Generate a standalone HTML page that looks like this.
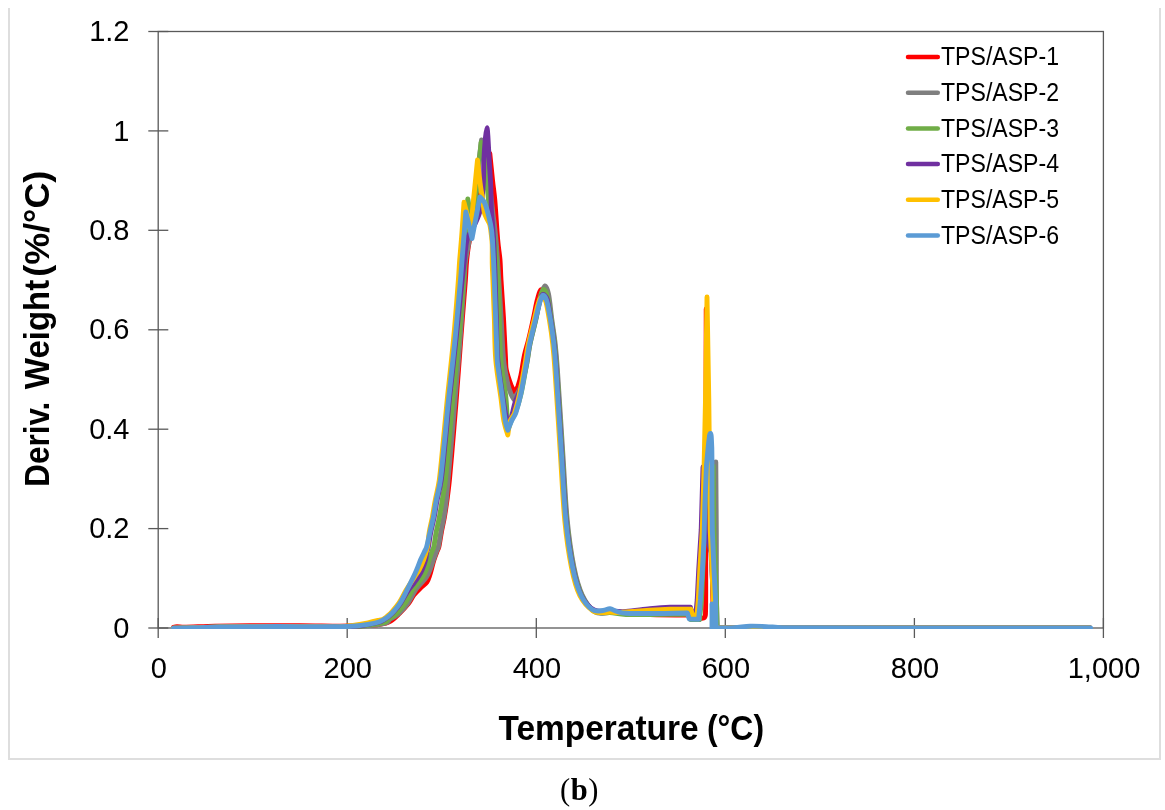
<!DOCTYPE html>
<html lang="en"><head><meta charset="utf-8"><title>Deriv. Weight vs Temperature</title>
<style>
html,body{margin:0;padding:0;background:#fff}
body{width:1165px;height:810px;overflow:hidden;position:relative}
svg{position:absolute;left:0;top:0;display:block}
text{font-family:"Liberation Sans",sans-serif;fill:#000}
.cap{font-family:"Liberation Serif",serif}
</style></head><body>
<svg width="1165" height="810" viewBox="0 0 1165 810">
<rect width="1165" height="810" fill="#fff"/>
<path d="M9 8V759H1160V8" fill="none" stroke="#dedede" stroke-width="2"/>
<defs><clipPath id="pa"><rect x="158.2" y="30.5" width="945.2" height="598.5"/></clipPath></defs>
<g stroke="#595959" stroke-width="1.3" fill="none">
<rect x="158.2" y="31.5" width="945.2" height="596.5"/>
<line x1="148.3" x2="168.3" y1="628.0" y2="628.0"/><line x1="148.3" x2="168.3" y1="528.6" y2="528.6"/><line x1="148.3" x2="168.3" y1="429.2" y2="429.2"/><line x1="148.3" x2="168.3" y1="329.8" y2="329.8"/><line x1="148.3" x2="168.3" y1="230.3" y2="230.3"/><line x1="148.3" x2="168.3" y1="130.9" y2="130.9"/><line x1="148.3" x2="168.3" y1="31.5" y2="31.5"/><line x1="158.2" x2="158.2" y1="618" y2="638"/><line x1="347.2" x2="347.2" y1="618" y2="638"/><line x1="536.3" x2="536.3" y1="618" y2="638"/><line x1="725.3" x2="725.3" y1="618" y2="638"/><line x1="914.4" x2="914.4" y1="618" y2="638"/><line x1="1103.4" x2="1103.4" y1="618" y2="638"/>
</g>
<g clip-path="url(#pa)" fill="none" stroke-width="4.9" stroke-linecap="round" stroke-linejoin="round">
<path d="M173.5 627.3 C173.5 627.3 175.6 626.7 177.0 626.7 C178.8 626.7 181.2 627.3 184.0 627.3 C190.3 627.2 204.0 626.5 215.0 626.2 C226.0 625.9 236.0 625.7 250.0 625.6 C264.2 625.5 285.0 625.6 300.0 625.7 C315.0 625.8 329.8 626.3 340.0 626.3 C348.4 626.3 354.3 626.1 361.0 625.8 C367.7 625.5 375.2 625.1 380.0 624.4 C384.1 623.8 386.7 623.4 390.0 621.5 C393.3 619.6 396.5 616.2 399.6 613.2 C402.6 610.2 406.1 606.5 408.5 603.5 C410.9 600.5 411.9 597.6 413.8 595.0 C415.8 592.4 418.3 590.2 420.5 588.0 C422.7 585.8 425.4 584.2 426.9 582.0 C428.5 579.8 429.0 577.2 429.8 575.0 C430.6 572.8 430.8 571.4 431.5 569.0 C432.2 566.5 433.0 562.8 433.9 560.0 C434.8 557.2 435.9 554.2 436.8 552.0 C437.6 549.9 438.4 548.9 438.9 546.7 C439.6 543.4 440.5 537.0 441.4 532.0 C442.3 527.0 443.5 522.3 444.4 517.0 C445.3 511.7 446.2 506.2 447.0 500.0 C447.8 493.8 448.6 488.0 449.4 480.0 C450.4 470.0 451.8 453.3 452.9 440.0 C454.0 426.7 455.0 416.0 456.2 400.0 C457.5 383.3 459.2 360.0 460.7 340.0 C462.2 320.0 464.4 293.3 465.4 280.0 C466.0 272.0 466.0 266.7 466.7 260.0 C467.4 253.3 467.9 247.9 469.5 240.0 C471.4 230.8 475.6 215.3 478.0 205.0 C480.4 194.7 482.3 185.3 483.8 178.0 C485.2 171.2 485.8 165.1 486.8 161.0 C487.6 157.9 489.8 153.5 489.8 153.5 C489.8 153.5 491.7 172.2 492.5 180.0 C493.3 187.8 494.1 192.0 494.8 200.0 C495.7 210.0 496.8 230.0 497.7 240.0 C498.4 248.0 499.4 253.3 500.0 260.0 C500.5 266.7 500.5 272.0 501.0 280.0 C501.6 290.0 502.8 306.7 503.6 320.0 C504.3 333.3 505.1 351.7 505.6 360.0 C505.8 364.0 505.5 366.1 506.3 370.0 C507.2 374.2 509.6 381.2 511.0 385.0 C512.2 388.1 514.8 392.5 514.8 392.5 C514.8 392.5 517.0 388.7 518.0 386.0 C519.0 383.1 520.1 379.5 521.0 375.0 C522.1 369.8 523.2 360.8 524.5 355.0 C525.8 349.2 527.0 345.9 528.5 340.0 C530.0 334.1 531.7 326.2 533.2 319.5 C534.7 312.8 536.0 304.9 537.3 300.0 C538.4 295.8 539.5 290.5 541.0 289.8 C542.5 289.1 545.0 293.0 546.0 296.0 C547.6 300.9 549.3 311.4 550.7 319.4 C552.0 327.4 553.2 335.6 554.1 344.0 C555.0 352.4 555.6 359.6 556.3 370.0 C557.6 388.5 560.2 430.0 561.8 455.0 C563.4 480.0 564.3 501.3 566.1 520.0 C567.9 538.7 570.3 554.5 572.8 567.0 C575.1 578.5 577.6 587.8 581.1 595.0 C584.6 602.2 589.2 607.8 594.0 610.5 C598.8 613.2 604.7 611.1 610.0 611.5 C615.3 611.9 619.6 612.5 626.0 613.0 C632.7 613.5 640.4 614.2 650.0 614.5 C660.5 614.8 689.0 615.0 689.0 615.0 L690.5 618.0 C690.5 618.0 701.3 618.6 703.8 617.8 C705.7 617.2 705.4 615.0 705.5 613.0 C705.8 605.0 705.7 570.0 705.7 570.0 L705.9 450.0 L706.2 309.0 L708.5 440.0 L711.5 480.0 L712.0 560.0 L713.5 628.0 L1090.0 628.0" stroke="#FF0000"/>
<path d="M173.5 628.2 C173.5 628.2 187.2 628.0 195.0 627.8 C202.8 627.6 210.8 627.2 220.0 627.0 C229.2 626.8 238.0 626.7 250.0 626.6 C263.3 626.5 285.0 626.6 300.0 626.6 C315.0 626.6 329.8 626.9 340.0 626.8 C348.4 626.7 354.7 626.6 361.0 626.2 C367.3 625.8 373.7 625.2 378.0 624.6 C381.7 624.1 385.0 623.5 387.0 622.6 C388.6 621.9 388.6 620.4 389.8 619.4 C391.1 618.4 393.0 617.6 394.6 616.6 C396.1 615.6 397.5 614.8 399.1 613.2 C401.2 611.0 405.0 607.3 407.6 603.5 C410.3 599.7 412.8 594.0 415.1 590.6 C417.3 587.3 419.5 585.3 421.4 583.0 C423.3 580.7 425.0 579.1 426.5 576.8 C428.0 574.5 429.2 571.8 430.3 569.0 C431.5 566.2 432.4 562.8 433.4 560.0 C434.4 557.2 435.4 554.2 436.3 552.0 C437.1 549.9 437.9 548.9 438.4 546.7 C439.1 543.4 440.0 537.0 440.9 532.0 C441.8 527.0 443.0 522.3 443.9 517.0 C444.8 511.7 445.6 506.2 446.3 500.0 C447.0 493.8 447.3 488.0 448.0 480.0 C448.9 470.0 450.4 453.3 451.6 440.0 C452.8 426.7 453.7 416.0 455.0 400.0 C456.4 383.3 458.5 360.0 460.0 340.0 C461.5 320.0 463.3 293.3 464.2 280.0 C464.8 272.0 464.5 267.9 465.6 260.0 C466.8 251.7 469.3 242.1 471.0 230.0 C472.7 217.5 474.2 200.0 476.0 185.0 C477.8 170.0 481.5 140.0 481.5 140.0 C481.5 140.0 484.2 152.5 485.5 160.0 C486.8 167.5 488.2 176.0 489.5 185.0 C490.8 194.0 491.9 204.8 493.0 214.0 C494.1 223.2 495.1 229.6 496.0 240.0 C497.0 251.0 497.9 266.7 498.8 280.0 C499.7 293.3 500.4 306.7 501.2 320.0 C502.1 333.3 502.5 349.2 503.6 360.0 C504.6 370.1 506.8 379.3 508.0 385.0 C508.8 388.7 510.0 391.6 511.0 394.0 C512.0 396.3 514.0 399.5 514.0 399.5 C514.0 399.5 515.8 396.2 517.0 394.0 C518.2 391.6 520.3 388.8 521.5 385.0 C523.1 380.0 525.3 370.8 526.7 364.0 C528.1 357.2 528.5 351.4 530.0 344.0 C531.5 336.6 534.0 327.5 535.8 319.5 C537.6 311.5 539.5 301.6 541.0 296.0 C542.1 291.9 543.5 286.3 544.8 286.0 C546.0 285.7 547.8 290.5 548.5 294.0 C549.7 299.6 550.7 311.1 551.8 319.4 C552.9 327.7 554.3 335.6 555.2 344.0 C556.1 352.4 556.7 359.6 557.4 370.0 C558.7 388.5 561.3 430.0 562.9 455.0 C564.5 480.0 565.4 501.3 567.2 520.0 C569.0 538.7 571.4 554.5 573.9 567.0 C576.2 578.5 578.7 587.5 582.2 595.0 C585.7 602.5 590.4 609.1 595.0 612.0 C599.6 614.9 604.8 612.4 610.0 612.5 C615.2 612.6 619.6 612.6 626.0 612.5 C632.7 612.4 642.7 612.2 650.0 612.0 C657.3 611.8 662.7 611.6 670.0 611.5 C677.3 611.4 694.0 611.5 694.0 611.5 L696.0 618.0 L699.5 619.5 M713.3 632.0 L714.0 600.0 L715.8 462.0 L716.3 530.0 L716.4 600.0 L717.3 628.0 L1090.0 628.0" stroke="#7F7F7F"/>
<path d="M173.5 628.2 C173.5 628.2 187.2 628.0 195.0 627.8 C202.8 627.6 210.8 627.2 220.0 627.0 C229.2 626.8 238.0 626.7 250.0 626.6 C263.3 626.5 285.0 626.6 300.0 626.6 C315.0 626.6 330.0 626.9 340.0 626.8 C348.0 626.7 354.0 626.6 360.0 626.2 C366.0 625.8 371.8 624.9 376.0 624.2 C379.6 623.6 383.0 623.1 385.0 622.3 C386.6 621.7 386.9 620.3 388.2 619.4 C389.4 618.5 391.2 617.6 392.6 616.6 C394.1 615.6 395.3 614.8 396.8 613.2 C398.8 611.0 402.4 607.3 404.9 603.5 C407.5 599.7 409.9 594.0 412.1 590.6 C414.2 587.3 416.2 585.3 418.0 583.0 C419.8 580.7 421.5 579.1 422.9 576.8 C424.3 574.5 425.4 571.8 426.5 569.0 C427.5 566.2 428.3 562.8 429.2 560.0 C430.1 557.2 431.0 554.2 431.8 552.0 C432.5 549.9 433.3 548.9 433.8 546.7 C434.5 543.4 435.3 537.0 436.2 532.0 C437.2 527.0 438.4 522.3 439.4 517.0 C440.4 511.7 441.3 506.2 442.3 500.0 C443.3 493.8 444.5 488.0 445.4 480.0 C446.5 470.0 447.9 453.3 449.1 440.0 C450.3 426.7 451.2 416.0 452.7 400.0 C454.3 383.3 456.9 360.0 458.7 340.0 C460.5 320.0 462.5 293.3 463.5 280.0 C464.1 272.0 464.2 268.0 464.8 260.0 C465.3 252.0 466.4 240.0 466.8 232.0 C467.2 224.0 466.8 217.5 467.0 212.0 C467.2 206.8 467.8 199.0 467.8 199.0 C467.8 199.0 469.6 209.8 470.5 214.0 C471.3 218.0 472.1 228.0 473.0 224.0 C474.1 219.2 475.6 198.6 477.0 185.0 C478.4 171.4 481.1 142.5 481.1 142.5 C481.1 142.5 483.6 154.1 484.5 160.0 C485.4 165.9 485.7 170.8 486.4 178.0 C487.3 186.7 488.5 201.7 489.8 212.0 C491.1 222.3 493.0 228.7 494.3 240.0 C495.7 251.3 497.1 266.7 497.9 280.0 C498.7 293.3 498.9 306.7 499.4 320.0 C499.8 333.3 499.7 347.2 500.8 360.0 C501.9 372.8 504.7 387.2 505.8 397.0 C506.8 405.8 506.8 413.9 507.3 419.0 C507.6 422.4 508.8 427.5 508.8 427.5 C508.8 427.5 510.8 421.8 512.0 419.0 C513.2 416.2 514.8 414.4 516.0 411.0 C517.5 406.8 519.4 400.9 521.0 394.0 C522.8 386.2 525.1 372.3 526.6 364.0 C528.0 356.0 528.4 351.4 529.9 344.0 C531.4 336.6 534.1 327.2 535.8 319.5 C537.5 311.8 538.7 303.0 540.0 298.0 C540.9 294.4 542.2 289.7 543.5 289.5 C544.8 289.3 546.7 293.7 547.5 297.0 C548.8 302.0 550.0 311.6 551.2 319.4 C552.4 327.2 553.7 335.6 554.6 344.0 C555.5 352.4 556.1 359.6 556.8 370.0 C558.1 388.5 560.7 430.0 562.3 455.0 C563.9 480.0 564.8 501.3 566.6 520.0 C568.4 538.7 570.8 554.5 573.3 567.0 C575.6 578.5 578.1 587.6 581.6 595.0 C585.1 602.4 589.8 608.6 594.5 611.5 C599.2 614.4 604.8 612.0 610.0 612.5 C615.2 613.0 619.6 614.2 626.0 614.5 C632.7 614.8 640.4 614.6 650.0 614.5 C660.4 614.4 688.5 614.0 688.5 614.0 L690.5 619.5 L699.5 619.5 L701.5 600.0 L704.5 530.0 L708.0 480.0 L713.2 466.0 L713.6 504.0 L713.9 530.0 L715.4 570.0 L716.5 600.0 L717.0 628.0 L1090.0 628.0" stroke="#70AD47"/>
<path d="M173.5 628.2 C173.5 628.2 187.2 628.0 195.0 627.8 C202.8 627.6 210.8 627.2 220.0 627.0 C229.2 626.8 238.0 626.7 250.0 626.6 C263.3 626.5 285.0 626.6 300.0 626.6 C315.0 626.6 330.3 626.9 340.0 626.8 C347.2 626.7 352.7 626.5 358.0 626.0 C363.3 625.5 368.2 624.4 372.0 623.6 C375.6 622.9 378.9 622.1 381.0 621.4 C382.5 620.9 383.2 620.2 384.5 619.4 C385.8 618.6 387.4 617.6 388.7 616.6 C390.0 615.6 391.1 614.7 392.5 613.2 C394.4 611.0 397.7 607.3 400.3 603.5 C402.9 599.7 405.8 594.0 408.1 590.6 C410.3 587.4 412.3 585.3 414.0 583.0 C415.7 580.7 416.9 579.1 418.3 576.8 C419.7 574.5 421.3 571.8 422.4 569.0 C423.6 566.2 424.8 562.8 425.5 560.0 C426.2 557.2 426.3 554.2 426.8 552.0 C427.3 549.8 428.0 548.9 428.4 546.7 C429.1 543.4 429.8 537.0 430.8 532.0 C431.8 527.0 433.1 522.3 434.2 517.0 C435.2 511.7 435.9 506.2 437.1 500.0 C438.3 493.8 440.1 488.1 441.2 480.0 C442.6 470.0 444.1 453.3 445.4 440.0 C446.8 426.7 447.6 416.0 449.3 400.0 C451.1 383.3 453.8 360.0 455.9 340.0 C458.1 320.0 460.8 293.3 462.2 280.0 C463.1 272.0 463.7 266.8 464.5 260.0 C465.3 253.2 465.6 244.7 467.2 239.0 C468.8 233.3 471.9 230.4 474.0 226.0 C476.1 221.6 478.3 217.0 479.6 212.5 C480.9 208.0 481.4 204.2 482.0 199.0 C482.6 193.8 483.1 187.5 483.4 181.0 C483.7 174.5 483.6 167.2 483.9 160.0 C484.2 152.8 484.9 143.4 485.4 138.0 C485.8 133.9 486.6 127.8 487.0 127.8 C487.4 127.8 487.7 133.9 488.0 138.0 C488.4 144.2 489.0 156.8 489.5 165.0 C490.0 173.2 490.5 179.5 490.8 187.0 C491.1 194.5 491.1 203.7 491.4 210.0 C491.7 216.0 492.2 219.2 492.6 225.0 C493.0 230.8 493.6 237.0 494.0 245.0 C494.4 254.2 494.8 267.5 495.2 280.0 C495.6 292.5 495.9 306.7 496.4 320.0 C496.8 333.3 496.7 347.2 497.8 360.0 C498.9 372.8 501.5 387.8 502.8 397.0 C503.9 404.2 504.8 410.5 505.8 415.0 C506.7 418.7 509.0 424.0 509.0 424.0 C509.0 424.0 510.7 419.9 511.5 417.0 C512.5 413.3 513.8 406.5 515.2 402.0 C516.6 397.5 518.6 395.0 520.0 390.0 C521.8 383.7 524.5 371.7 526.0 364.0 C527.5 356.3 527.8 351.4 529.3 344.0 C530.8 336.6 533.5 326.7 535.2 319.5 C536.9 312.3 538.4 305.2 539.7 301.0 C540.6 298.2 541.8 294.8 543.0 294.5 C544.2 294.2 546.4 296.7 547.1 299.0 C548.4 303.1 549.5 311.9 550.7 319.4 C551.9 326.9 553.2 335.6 554.1 344.0 C555.0 352.4 555.6 359.6 556.3 370.0 C557.6 388.5 560.2 430.0 561.8 455.0 C563.4 480.0 564.3 501.3 566.1 520.0 C567.9 538.7 570.3 554.5 572.8 567.0 C575.1 578.5 577.6 587.8 581.1 595.0 C584.6 602.1 589.2 607.3 594.0 610.0 C598.8 612.7 604.7 610.8 610.0 611.0 C615.3 611.2 619.6 611.9 626.0 611.5 C632.7 611.1 642.7 609.4 650.0 608.7 C657.3 608.0 663.2 607.5 670.0 607.3 C676.8 607.1 690.5 607.3 690.5 607.3 L692.0 614.0 L695.8 614.5 L697.2 600.0 L698.7 570.0 L701.2 530.0 L703.0 467.0 L707.0 536.0 L711.0 553.0 L713.5 600.0 L714.5 628.0 L1090.0 628.0" stroke="#7030A0"/>
<path d="M173.5 628.2 C173.5 628.2 187.2 628.0 195.0 627.8 C202.8 627.6 210.8 627.2 220.0 627.0 C229.2 626.8 238.0 626.7 250.0 626.6 C263.3 626.5 285.0 626.6 300.0 626.6 C315.0 626.6 331.2 627.0 340.0 626.8 C345.2 626.7 348.3 626.0 353.0 625.3 C357.7 624.6 363.8 623.6 368.0 622.8 C372.0 622.0 375.6 621.1 378.0 620.5 C379.8 620.1 381.1 620.0 382.6 619.4 C384.1 618.8 385.5 617.6 386.8 616.6 C388.2 615.6 389.3 614.7 390.7 613.2 C392.6 611.0 396.1 607.3 398.7 603.5 C401.2 599.7 403.9 594.0 405.9 590.6 C407.7 587.5 409.1 585.3 410.6 583.0 C412.0 580.7 413.1 579.1 414.6 576.8 C416.1 574.5 418.1 571.8 419.6 569.0 C421.0 566.2 422.4 562.8 423.5 560.0 C424.6 557.2 425.4 554.2 426.1 552.0 C426.7 549.9 427.2 548.9 427.5 546.7 C428.1 543.4 428.5 537.0 429.3 532.0 C430.1 527.0 431.4 522.3 432.4 517.0 C433.4 511.7 434.1 506.2 435.3 500.0 C436.4 493.8 438.2 488.1 439.3 480.0 C440.7 470.0 442.1 453.3 443.4 440.0 C444.7 426.7 445.6 416.0 447.2 400.0 C448.9 383.3 451.6 360.0 453.5 340.0 C455.4 320.0 457.4 293.3 458.4 280.0 C459.0 272.0 459.1 268.0 459.7 260.0 C460.3 252.0 461.3 241.6 462.0 232.0 C462.7 222.4 464.0 202.3 464.0 202.3 C464.0 202.3 465.9 209.7 467.0 214.0 C468.1 218.3 469.2 230.3 470.3 228.0 C471.4 225.7 472.3 211.2 473.5 200.0 C474.7 188.7 477.5 160.0 477.5 160.0 C477.5 160.0 479.6 179.3 480.5 186.0 C481.2 191.6 482.2 195.6 482.8 200.0 C483.4 204.4 483.6 209.3 484.3 212.5 C484.9 215.2 486.1 217.0 487.0 219.0 C487.9 221.0 489.1 222.1 489.8 224.5 C490.5 227.1 490.9 231.1 491.3 234.4 C491.7 237.7 492.1 240.3 492.2 244.3 C492.4 249.4 492.1 259.1 492.3 265.0 C492.4 270.9 492.7 274.0 492.9 280.0 C493.2 289.2 493.9 306.7 494.4 320.0 C494.8 333.3 494.7 347.2 495.8 360.0 C496.9 372.8 499.4 386.8 500.8 397.0 C502.1 406.6 502.7 414.7 503.9 421.0 C505.0 426.7 507.8 435.0 507.8 435.0 C507.8 435.0 509.1 424.7 510.2 421.0 C511.3 417.5 513.3 416.4 514.5 413.0 C516.0 408.6 517.8 402.0 519.4 394.6 C521.2 386.4 523.5 372.4 525.0 364.0 C526.4 356.0 526.8 351.4 528.3 344.0 C529.8 336.6 532.5 326.4 534.2 319.5 C535.9 312.7 537.2 306.2 538.5 302.5 C539.3 300.0 540.8 297.2 542.0 297.0 C543.2 296.8 545.1 299.3 545.8 301.5 C547.0 305.3 548.2 312.7 549.4 319.9 C550.6 327.1 551.9 336.1 552.8 344.5 C553.7 352.9 554.3 360.1 555.0 370.5 C556.3 389.0 558.9 430.5 560.5 455.5 C562.1 480.5 563.0 501.8 564.8 520.5 C566.6 539.2 569.0 555.0 571.5 567.5 C573.8 579.0 576.2 588.2 579.8 595.5 C583.4 602.8 589.1 608.2 593.0 611.0 C596.3 613.4 600.2 612.3 603.0 612.5 C605.8 612.7 607.7 612.0 610.0 612.0 C612.3 612.0 614.3 612.5 617.0 612.5 C619.7 612.5 622.4 612.2 626.0 612.0 C631.5 611.6 642.7 610.8 650.0 610.3 C657.3 609.8 663.2 609.5 670.0 609.3 C676.8 609.1 691.0 609.3 691.0 609.3 L692.5 615.0 L697.0 615.5 L698.3 600.0 L699.8 570.0 L702.3 530.0 L704.0 470.0 L705.5 400.0 L707.0 297.0 L708.8 400.0 L709.6 470.0 L710.2 530.0 L712.0 570.0 L713.3 600.0 L715.0 628.0 L1090.0 628.0" stroke="#FFC000"/>
<path d="M173.5 628.2 C173.5 628.2 187.2 628.0 195.0 627.8 C202.8 627.6 210.8 627.2 220.0 627.0 C229.2 626.8 238.0 626.7 250.0 626.6 C263.3 626.5 285.0 626.6 300.0 626.6 C315.0 626.6 330.8 626.9 340.0 626.8 C346.2 626.7 350.8 626.4 355.5 626.0 C360.2 625.6 364.4 624.9 368.0 624.3 C371.6 623.7 374.3 623.3 377.0 622.5 C379.7 621.7 382.1 620.4 384.0 619.4 C385.8 618.5 386.9 617.6 388.2 616.6 C389.5 615.6 390.6 614.7 392.0 613.2 C393.9 611.0 397.4 607.3 399.8 603.5 C402.2 599.7 404.4 595.1 406.7 590.6 C409.0 586.1 411.8 580.4 413.5 576.8 C415.0 573.7 415.8 571.8 417.0 569.0 C418.2 566.2 419.3 562.8 420.5 560.0 C421.7 557.2 423.3 554.2 424.3 552.0 C425.3 549.9 426.1 548.9 426.7 546.7 C427.6 543.4 428.9 537.0 430.0 532.0 C431.1 527.0 432.3 522.3 433.4 517.0 C434.4 511.7 435.1 506.2 436.3 500.0 C437.5 493.8 439.3 488.1 440.4 480.0 C441.8 470.0 443.2 453.3 444.6 440.0 C446.0 426.7 446.8 416.0 448.5 400.0 C450.2 383.3 453.0 360.0 455.0 340.0 C457.0 320.0 459.3 293.3 460.5 280.0 C461.2 272.0 461.4 268.0 462.0 260.0 C462.6 252.0 463.7 240.0 464.3 232.0 C464.9 224.0 465.8 212.0 465.8 212.0 C465.8 212.0 467.5 218.6 468.5 223.0 C469.5 227.4 472.0 238.5 472.0 238.5 C472.0 238.5 474.2 226.9 475.5 220.0 C476.8 213.1 480.0 197.0 480.0 197.0 C480.0 197.0 483.0 199.7 484.2 202.0 C485.5 204.5 486.5 207.9 487.6 212.0 C488.8 216.7 490.6 223.0 491.5 230.0 C492.4 237.0 492.7 245.7 493.2 254.0 C493.7 262.3 493.9 269.6 494.3 280.0 C495.0 297.7 496.5 344.7 497.2 360.0 C497.4 364.8 498.1 367.2 498.7 372.0 C499.5 378.2 501.1 388.8 502.2 397.0 C503.3 405.2 504.4 415.4 505.3 421.0 C505.9 424.8 507.8 430.3 507.8 430.3 C507.8 430.3 510.2 423.9 511.5 421.0 C512.8 418.1 514.6 416.4 515.8 413.0 C517.3 408.6 519.1 402.0 520.7 394.6 C522.5 386.4 524.8 372.4 526.3 364.0 C527.7 356.0 528.1 351.4 529.6 344.0 C531.1 336.6 533.8 326.6 535.5 319.5 C537.2 312.4 538.8 305.5 540.0 301.5 C540.8 298.9 541.9 295.4 543.0 295.3 C544.1 295.2 546.0 298.4 546.8 301.0 C548.0 305.0 549.2 312.2 550.4 319.4 C551.6 326.6 552.9 335.6 553.8 344.0 C554.7 352.4 555.3 359.6 556.0 370.0 C557.3 388.5 559.9 430.0 561.5 455.0 C563.1 480.0 564.0 501.3 565.8 520.0 C567.6 538.7 570.0 554.5 572.5 567.0 C574.8 578.5 577.5 587.9 580.8 595.0 C584.0 601.8 588.8 607.2 592.5 609.8 C596.0 612.2 600.1 610.7 603.0 610.5 C605.9 610.3 607.7 608.6 610.0 608.8 C612.3 609.0 614.3 610.8 617.0 611.5 C619.7 612.2 622.3 613.0 626.0 613.2 C631.5 613.5 640.4 613.5 650.0 613.5 C660.2 613.5 687.3 613.0 687.3 613.0 L689.3 619.0 L698.6 619.2 L700.4 600.0 L702.4 570.0 L704.0 540.0 L704.9 504.0 L706.5 465.0 L708.3 446.0 C708.3 446.0 709.2 437.6 709.6 435.5 C709.7 434.6 710.1 433.3 710.4 433.4 C710.7 433.5 711.1 434.9 711.2 436.0 C711.4 438.4 711.8 448.0 711.8 448.0 L712.0 465.0 L712.0 504.0 L712.3 530.0 L714.0 570.0 L715.6 600.0 L716.0 628.0 L712.0 628.0 L712.0 604.0 L712.0 628.0 L717.0 628.0 C717.0 628.0 728.5 628.0 734.0 627.7 C739.5 627.4 744.7 626.4 750.0 626.2 C755.3 626.0 760.7 626.4 766.0 626.6 C771.3 626.8 775.6 627.5 782.0 627.6 C804.3 627.8 852.8 627.9 900.0 628.0 C951.4 628.1 1090.6 628.0 1090.6 628.0" stroke="#5B9BD5"/>
</g>
<g font-size="29"><text x="129.5" y="637.6" text-anchor="end">0</text><text x="129.5" y="538.2" text-anchor="end">0.2</text><text x="129.5" y="438.8" text-anchor="end">0.4</text><text x="129.5" y="339.4" text-anchor="end">0.6</text><text x="129.5" y="239.9" text-anchor="end">0.8</text><text x="129.5" y="140.5" text-anchor="end">1</text><text x="129.5" y="41.1" text-anchor="end">1.2</text>
<text x="158.8" y="678" text-anchor="middle">0</text><text x="347.8" y="678" text-anchor="middle">200</text><text x="536.9" y="678" text-anchor="middle">400</text><text x="725.9" y="678" text-anchor="middle">600</text><text x="915.0" y="678" text-anchor="middle">800</text><text x="1104.0" y="678" text-anchor="middle">1,000</text></g>
<g stroke-width="4.5" stroke-linecap="round"><line x1="908" x2="937.8" y1="57.0" y2="57.0" stroke="#FF0000"/><line x1="908" x2="937.8" y1="92.7" y2="92.7" stroke="#7F7F7F"/><line x1="908" x2="937.8" y1="128.4" y2="128.4" stroke="#70AD47"/><line x1="908" x2="937.8" y1="164.0" y2="164.0" stroke="#7030A0"/><line x1="908" x2="937.8" y1="199.7" y2="199.7" stroke="#FFC000"/><line x1="908" x2="937.8" y1="235.4" y2="235.4" stroke="#5B9BD5"/></g>
<g font-size="25.8"><text x="941" y="65.2" textLength="118" lengthAdjust="spacingAndGlyphs">TPS/ASP-1</text><text x="941" y="100.9" textLength="118" lengthAdjust="spacingAndGlyphs">TPS/ASP-2</text><text x="941" y="136.6" textLength="118" lengthAdjust="spacingAndGlyphs">TPS/ASP-3</text><text x="941" y="172.2" textLength="118" lengthAdjust="spacingAndGlyphs">TPS/ASP-4</text><text x="941" y="207.9" textLength="118" lengthAdjust="spacingAndGlyphs">TPS/ASP-5</text><text x="941" y="243.6" textLength="118" lengthAdjust="spacingAndGlyphs">TPS/ASP-6</text></g>
<text y="740.2" font-size="34.2" font-weight="bold"><tspan x="498.6" textLength="200" lengthAdjust="spacingAndGlyphs">Temperature</tspan> <tspan x="707" textLength="57" lengthAdjust="spacingAndGlyphs">(°C)</tspan></text>
<g transform="translate(48.5 484.2) rotate(-90)" font-size="34.2" font-weight="bold"><text y="0"><tspan x="-2.5" textLength="85" lengthAdjust="spacingAndGlyphs">Deriv.</tspan> <tspan x="95" textLength="109.5" lengthAdjust="spacingAndGlyphs">Weight</tspan> <tspan x="207.5" textLength="106" lengthAdjust="spacingAndGlyphs">(%/°C)</tspan></text></g>
<text class="cap" x="579.5" y="799.8" font-size="30.5" letter-spacing="0.6" text-anchor="middle">(<tspan font-weight="bold">b</tspan>)</text>
</svg>
</body></html>
